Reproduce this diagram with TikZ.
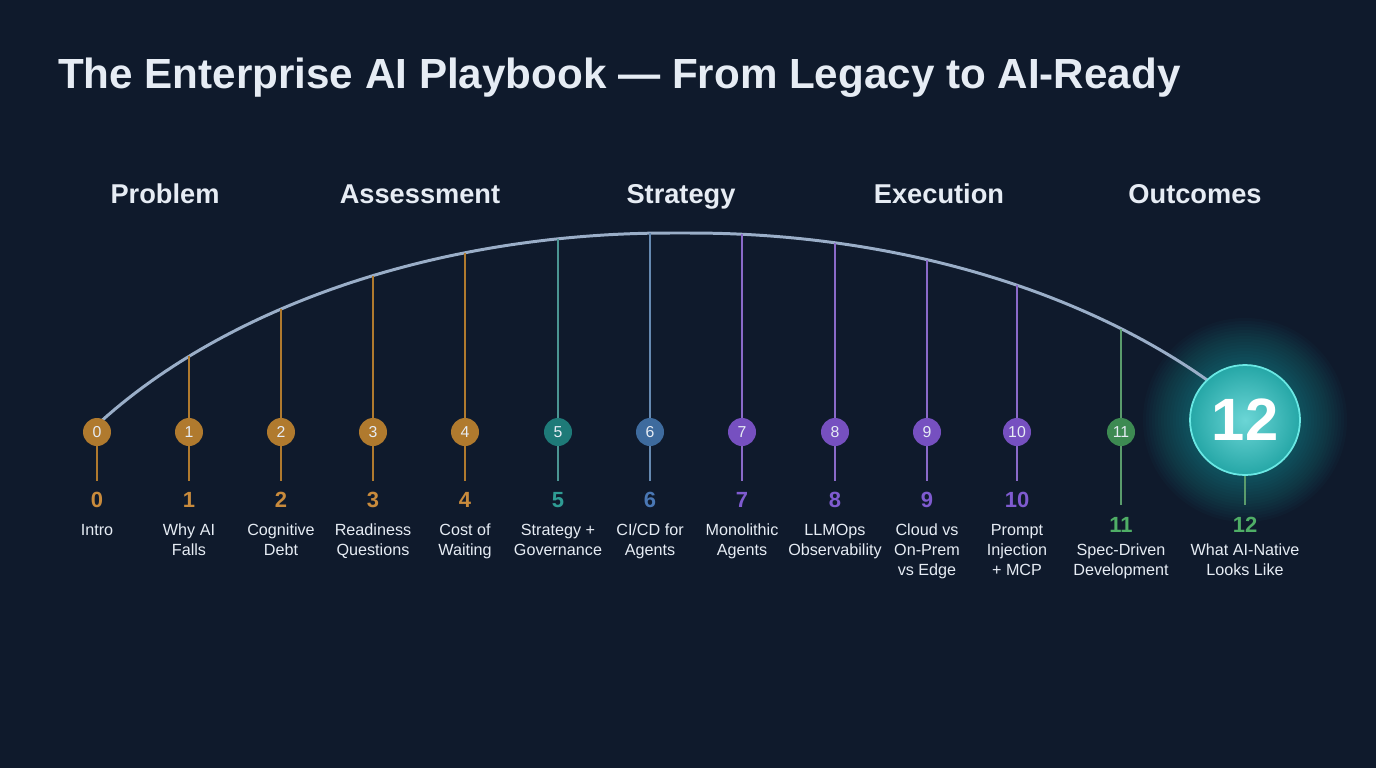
\documentclass[tikz,border=0pt]{standalone}
\usepackage{fontspec}
\setmainfont{Liberation Sans}
\usepackage{xcolor}
\usetikzlibrary{positioning,calc}
\pgfdeclarelayer{back}
\pgfsetlayers{back,main}

\definecolor{bgnavy}{HTML}{0F1A2C}
\definecolor{arcblue}{HTML}{9AAEC8}
\definecolor{txtlight}{HTML}{E6ECF4}
\definecolor{cOrange}{HTML}{B07A2E}
\definecolor{cTeal}{HTML}{1E7A78}
\definecolor{cBlue}{HTML}{3E6B9E}
\definecolor{cPurple}{HTML}{7650C0}
\definecolor{cGreen}{HTML}{3D8A52}
\definecolor{nOrange}{HTML}{C98B3C}
\definecolor{nTeal}{HTML}{2F9C94}
\definecolor{nBlue}{HTML}{4A78B5}
\definecolor{nPurple}{HTML}{7F5BD0}
\definecolor{nGreen}{HTML}{4FAE66}
\definecolor{cCyan}{HTML}{2CC4C4}
\definecolor{cCyanEdge}{HTML}{6AE8E4}

% arc height, left and right half
\newcommand{\arcL}[1]{684-451*sqrt(1-((#1-670)/700)^2)}
\newcommand{\arcR}[1]{684-451*sqrt(1-((#1-690)/700)^2)}

\begin{document}
\begin{tikzpicture}[
  x=0.02cm, y=-0.02cm,
  every node/.style={text=txtlight},
  title/.style={font=\fontsize{24}{28}\selectfont\bfseries, anchor=west},
  phase/.style={font=\fontsize{15.5}{18}\selectfont\bfseries, anchor=base},
  dot/.style={circle, minimum size=0.56cm, inner sep=0pt, font=\fontsize{9}{10}\selectfont},
  num/.style={font=\fontsize{12.5}{14}\selectfont\bfseries},
  lbl/.style={font=\fontsize{9.2}{11.3}\selectfont, align=center, anchor=north},
  stem/.style={line width=1.1pt},
  arcline/.style={line width=1.7pt, arcblue}
]
\useasboundingbox (0,0) rectangle (1376,768);

% title and phases
\node[title] (ttl) at (52,78) {The Enterprise AI Playbook --- From Legacy to AI-Ready};
\node[phase] (ph1) at (165,203) {Problem};
\node[phase] (ph2) at (420,203) {Assessment};
\node[phase] (ph3) at (681,203) {Strategy};
\node[phase] (ph4) at (939,203) {Execution};
\node[phase] (ph5) at (1195,203) {Outcomes};

% stem tops on the arc
\coordinate (t1)  at (189,{\arcL{189}});
\coordinate (t2)  at (281,{\arcL{281}});
\coordinate (t3)  at (373,{\arcL{373}});
\coordinate (t4)  at (465,{\arcL{465}});
\coordinate (t5)  at (558,{\arcL{558}});
\coordinate (t6)  at (650,{\arcL{650}});
\coordinate (t7)  at (742,{\arcR{742}});
\coordinate (t8)  at (835,{\arcR{835}});
\coordinate (t9)  at (927,{\arcR{927}});
\coordinate (t10) at (1017,{\arcR{1017}});
\coordinate (t11) at (1121,{\arcR{1121}});

% milestones
\node[dot, fill=cOrange] (d0)  at (97,432)   {0};
\node[dot, fill=cOrange] (d1)  at (189,432)  {1};
\node[dot, fill=cOrange] (d2)  at (281,432)  {2};
\node[dot, fill=cOrange] (d3)  at (373,432)  {3};
\node[dot, fill=cOrange] (d4)  at (465,432)  {4};
\node[dot, fill=cTeal]   (d5)  at (558,432)  {5};
\node[dot, fill=cBlue]   (d6)  at (650,432)  {6};
\node[dot, fill=cPurple] (d7)  at (742,432)  {7};
\node[dot, fill=cPurple] (d8)  at (835,432)  {8};
\node[dot, fill=cPurple] (d9)  at (927,432)  {9};
\node[dot, fill=cPurple] (d10) at (1017,432) {10};
\node[dot, fill=cGreen]  (d11) at (1121,432) {11};
\node[circle, minimum size=110*0.02cm, inner sep=0pt, draw=cCyanEdge, line width=1pt,
      inner color=cCyan!70!white, outer color=cCyan!85!black,
      font=\fontsize{34}{36}\selectfont\bfseries, text=white] (d12) at (1245,420) {12};

\coordinate (b0)  at (97,481);
\coordinate (b1)  at (189,481);
\coordinate (b2)  at (281,481);
\coordinate (b3)  at (373,481);
\coordinate (b4)  at (465,481);
\coordinate (b5)  at (558,481);
\coordinate (b6)  at (650,481);
\coordinate (b7)  at (742,481);
\coordinate (b8)  at (835,481);
\coordinate (b9)  at (927,481);
\coordinate (b10) at (1017,481);
\coordinate (b11) at (1121,505);
\coordinate (b12) at (1245,505);

\begin{pgfonlayer}{back}
\fill[bgnavy] (0,0) rectangle (1376,768);
% glow behind the last one
\foreach \r in {102,99,...,58}
  \fill[cCyan, opacity=0.026] (d12.center) circle (\r);

\draw[arcline] plot[domain=100:670, samples=80] (\x,{\arcL{\x}})
  -- plot[domain=690:1215, samples=80] (\x,{\arcR{\x}});

% stems
\draw[stem, cOrange] (t1) -- (d1.north);
\draw[stem, cOrange] (t2) -- (d2.north);
\draw[stem, cOrange] (t3) -- (d3.north);
\draw[stem, cOrange] (t4) -- (d4.north);
\draw[stem, cTeal!80!white]   (t5) -- (d5.north);
\draw[stem, cBlue!80!white]   (t6) -- (d6.north);
\draw[stem, cPurple!85!white] (t7) -- (d7.north);
\draw[stem, cPurple!85!white] (t8) -- (d8.north);
\draw[stem, cPurple!85!white] (t9) -- (d9.north);
\draw[stem, cPurple!85!white] (t10) -- (d10.north);
\draw[stem, cGreen!85!white]  (t11) -- (d11.north);

\draw[stem, cOrange] (d0.south) -- (b0);
\draw[stem, cOrange] (d1.south) -- (b1);
\draw[stem, cOrange] (d2.south) -- (b2);
\draw[stem, cOrange] (d3.south) -- (b3);
\draw[stem, cOrange] (d4.south) -- (b4);
\draw[stem, cTeal!80!white]   (d5.south) -- (b5);
\draw[stem, cBlue!80!white]   (d6.south) -- (b6);
\draw[stem, cPurple!85!white] (d7.south) -- (b7);
\draw[stem, cPurple!85!white] (d8.south) -- (b8);
\draw[stem, cPurple!85!white] (d9.south) -- (b9);
\draw[stem, cPurple!85!white] (d10.south) -- (b10);
\draw[stem, cGreen!85!white]  (d11.south) -- (b11);
\draw[stem, cGreen!85!white]  (d12.south) -- (b12);
\end{pgfonlayer}

% numbers
\node[num, text=nOrange] (n0)  at (97,500)   {0};
\node[num, text=nOrange] (n1)  at (189,500)  {1};
\node[num, text=nOrange] (n2)  at (281,500)  {2};
\node[num, text=nOrange] (n3)  at (373,500)  {3};
\node[num, text=nOrange] (n4)  at (465,500)  {4};
\node[num, text=nTeal]   (n5)  at (558,500)  {5};
\node[num, text=nBlue]   (n6)  at (650,500)  {6};
\node[num, text=nPurple] (n7)  at (742,500)  {7};
\node[num, text=nPurple] (n8)  at (835,500)  {8};
\node[num, text=nPurple] (n9)  at (927,500)  {9};
\node[num, text=nPurple] (n10) at (1017,500) {10};
\node[num, text=nGreen]  (n11) at (1121,525) {11};
\node[num, text=nGreen]  (n12) at (1245,525) {12};

% labels
\node[lbl] (l0)  at (97,518)   {Intro};
\node[lbl] (l1)  at (189,518)  {Why AI\\Falls};
\node[lbl] (l2)  at (281,518)  {Cognitive\\Debt};
\node[lbl] (l3)  at (373,518)  {Readiness\\Questions};
\node[lbl] (l4)  at (465,518)  {Cost of\\Waiting};
\node[lbl] (l5)  at (558,518)  {Strategy +\\Governance};
\node[lbl] (l6)  at (650,518)  {CI/CD for\\Agents};
\node[lbl] (l7)  at (742,518)  {Monolithic\\Agents};
\node[lbl] (l8)  at (835,518)  {LLMOps\\Observability};
\node[lbl] (l9)  at (927,518)  {Cloud vs\\On-Prem\\vs Edge};
\node[lbl] (l10) at (1017,518) {Prompt\\Injection\\+ MCP};
\node[lbl] (l11) at (1121,538) {Spec-Driven\\Development};
\node[lbl] (l12) at (1245,538) {What AI-Native\\Looks Like};
\end{tikzpicture}
\end{document}
